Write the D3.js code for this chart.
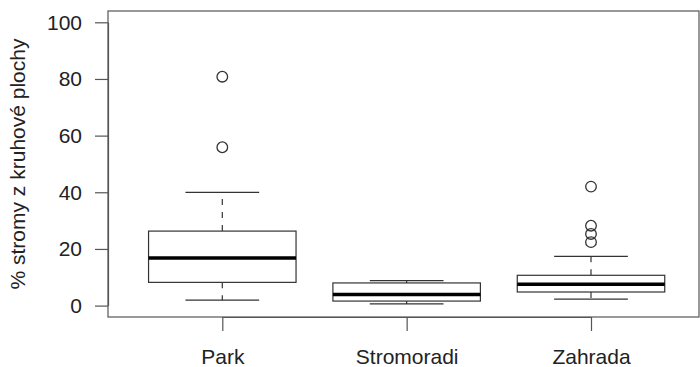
<!DOCTYPE html>
<html>
<head>
<meta charset="utf-8">
<script src="https://cdn.jsdelivr.net/npm/d3@7"></script>
<style>
  html, body { margin: 0; padding: 0; background: #fff; }
  svg { display: block; font-family: "Liberation Sans", Arial, sans-serif; }
</style>
</head>
<body>
<svg id="chart" width="700" height="367"></svg>
<script>
// values
const categories = ['Park', 'Stromoradi', 'Zahrada'];
const whiskerLow = [1.9, 0.6, 2.3];
const q1 = [8.2, 1.6, 4.8];
const median = [16.8, 3.9, 7.5];
const q3 = [26.3, 8.0, 10.7];
const whiskerHigh = [40.0, 8.8, 17.4];
const outliers = [[80.8, 55.9], [], [42.0, 28.2, 25.3, 22.4]];
const yTicks = [0, 20, 40, 60, 80, 100];
const yLabel = '% stromy z kruhové plochy';

const frame = { left: 108, right: 699, top: 11, bottom: 317 };
const ink = '#333';

const svg = d3.select('#chart');

const xScale = d3.scalePoint()
  .domain(categories)
  .range([222.3, 591]);

const yScale = d3.scaleLinear()
  .domain([0, 100])
  .range([305.6, 22.3]);

const boxW = xScale.step() * 0.8;
const capW = boxW / 2;

const stats = categories.map((c, i) => ({
  cat: c,
  lo: whiskerLow[i],
  q1: q1[i],
  med: median[i],
  q3: q3[i],
  hi: whiskerHigh[i],
  out: outliers[i]
}));

// plot frame
svg.append('rect')
  .attr('x', frame.left)
  .attr('y', frame.top)
  .attr('width', frame.right - frame.left)
  .attr('height', frame.bottom - frame.top)
  .attr('fill', 'none')
  .attr('stroke', '#555')
  .attr('stroke-width', 1.2);

const yAxis = d3.axisLeft(yScale)
  .tickValues(yTicks)
  .tickSize(13)
  .tickSizeOuter(0)
  .tickPadding(13);

const xAxis = d3.axisBottom(xScale)
  .tickSize(14)
  .tickSizeOuter(0)
  .tickPadding(18);

const gy = svg.append('g')
  .attr('transform', `translate(${frame.left},0)`)
  .call(yAxis);

const gx = svg.append('g')
  .attr('transform', `translate(0,${frame.bottom})`)
  .call(xAxis);

[gx, gy].forEach(g => {
  g.select('.domain').attr('stroke', '#555').attr('stroke-width', 1.2);
  g.selectAll('.tick line').attr('stroke', '#555').attr('stroke-width', 1.2);
  g.selectAll('.tick text')
    .attr('fill', '#222')
    .style('font-size', '21px')
    .style('font-family', '"Liberation Sans", Arial, sans-serif');
});

svg.append('text')
  .attr('transform', `translate(25,${(frame.top + frame.bottom) / 2}) rotate(-90)`)
  .attr('text-anchor', 'middle')
  .attr('fill', '#222')
  .style('font-size', '21px')
  .text(yLabel);

const boxes = svg.append('g')
  .selectAll('g')
  .data(stats)
  .join('g')
  .attr('transform', d => `translate(${xScale(d.cat)},0)`);

// dashed whiskers
boxes.append('line')
  .attr('y1', d => yScale(d.q3))
  .attr('y2', d => yScale(d.hi))
  .attr('stroke', ink)
  .attr('stroke-width', 1.2)
  .attr('stroke-dasharray', '6,7');

boxes.append('line')
  .attr('y1', d => yScale(d.q1))
  .attr('y2', d => yScale(d.lo))
  .attr('stroke', ink)
  .attr('stroke-width', 1.2)
  .attr('stroke-dasharray', '6,7');

// whisker caps
boxes.append('line')
  .attr('x1', -capW / 2)
  .attr('x2', capW / 2)
  .attr('y1', d => yScale(d.hi))
  .attr('y2', d => yScale(d.hi))
  .attr('stroke', ink)
  .attr('stroke-width', 1.2);

boxes.append('line')
  .attr('x1', -capW / 2)
  .attr('x2', capW / 2)
  .attr('y1', d => yScale(d.lo))
  .attr('y2', d => yScale(d.lo))
  .attr('stroke', ink)
  .attr('stroke-width', 1.2);

boxes.append('rect')
  .attr('x', -boxW / 2)
  .attr('width', boxW)
  .attr('y', d => yScale(d.q3))
  .attr('height', d => yScale(d.q1) - yScale(d.q3))
  .attr('fill', '#fff')
  .attr('stroke', ink)
  .attr('stroke-width', 1.2);

boxes.append('line')
  .attr('x1', -boxW / 2)
  .attr('x2', boxW / 2)
  .attr('y1', d => yScale(d.med))
  .attr('y2', d => yScale(d.med))
  .attr('stroke', '#000')
  .attr('stroke-width', 3.5);

boxes.selectAll('circle')
  .data(d => d.out)
  .join('circle')
  .attr('cx', 0)
  .attr('cy', v => yScale(v))
  .attr('r', 5.3)
  .attr('fill', 'none')
  .attr('stroke', ink)
  .attr('stroke-width', 1.3);
</script>
</body>
</html>
